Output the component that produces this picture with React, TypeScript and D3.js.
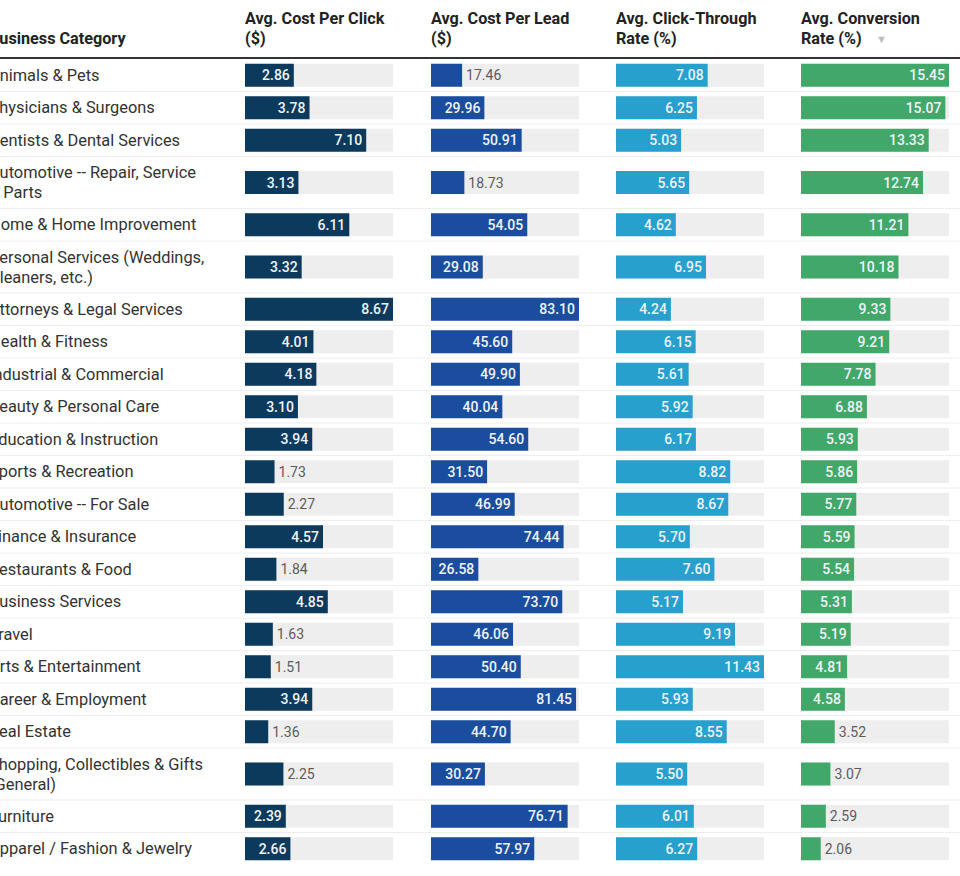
import React from "react";
import * as d3 from "d3";

const categories = [
  "Animals & Pets",
  "Physicians & Surgeons",
  "Dentists & Dental Services",
  "Automotive -- Repair, Service & Parts",
  "Home & Home Improvement",
  "Personal Services (Weddings, Cleaners, etc.)",
  "Attorneys & Legal Services",
  "Health & Fitness",
  "Industrial & Commercial",
  "Beauty & Personal Care",
  "Education & Instruction",
  "Sports & Recreation",
  "Automotive -- For Sale",
  "Finance & Insurance",
  "Restaurants & Food",
  "Business Services",
  "Travel",
  "Arts & Entertainment",
  "Career & Employment",
  "Real Estate",
  "Shopping, Collectibles & Gifts (General)",
  "Furniture",
  "Apparel / Fashion & Jewelry",
];

const costPerClick = [2.86, 3.78, 7.1, 3.13, 6.11, 3.32, 8.67, 4.01, 4.18, 3.1, 3.94, 1.73, 2.27, 4.57, 1.84, 4.85, 1.63, 1.51, 3.94, 1.36, 2.25, 2.39, 2.66];
const costPerLead = [17.46, 29.96, 50.91, 18.73, 54.05, 29.08, 83.1, 45.6, 49.9, 40.04, 54.6, 31.5, 46.99, 74.44, 26.58, 73.7, 46.06, 50.4, 81.45, 44.7, 30.27, 76.71, 57.97];
const clickThrough = [7.08, 6.25, 5.03, 5.65, 4.62, 6.95, 4.24, 6.15, 5.61, 5.92, 6.17, 8.82, 8.67, 5.7, 7.6, 5.17, 9.19, 11.43, 5.93, 8.55, 5.5, 6.01, 6.27];
const conversion = [15.45, 15.07, 13.33, 12.74, 11.21, 10.18, 9.33, 9.21, 7.78, 6.88, 5.93, 5.86, 5.77, 5.59, 5.54, 5.31, 5.19, 4.81, 4.58, 3.52, 3.07, 2.59, 2.06];

const columns = [
  { title: ["Avg. Cost Per Click", "($)"], values: costPerClick, color: "#0c3a5d", x: 245 },
  { title: ["Avg. Cost Per Lead", "($)"], values: costPerLead, color: "#1a4d9d", x: 431 },
  { title: ["Avg. Click-Through", "Rate (%)"], values: clickThrough, color: "#27a0cd", x: 616 },
  { title: ["Avg. Conversion", "Rate (%)"], values: conversion, color: "#42a86a", x: 801 },
];

const W = 960;
const H = 876;
const FONT = "Roboto, 'Noto Sans', sans-serif";
const headerBottom = 59;
const lineH = 32.5;
const extraLine = 19.5;
const barH = 23;
const trackW = 148;
const labelX = -11;
const labelSize = 16.4;
const wrapWidth = 217;

// split a category name over as many lines as the first column needs
function wrap(text: string): string[] {
  const ctx = document.createElement("canvas").getContext("2d")!;
  ctx.font = `${labelSize}px ${FONT}`;
  const words = text.split(" ");
  const lines: string[] = [];
  let cur = "";
  words.forEach((w) => {
    const next = cur ? cur + " " + w : w;
    if (ctx.measureText(next).width > wrapWidth && cur) {
      lines.push(cur);
      cur = w;
    } else cur = next;
  });
  if (cur) lines.push(cur);
  return lines;
}

export default function App() {
  const rows = React.useMemo(() => {
    let y = headerBottom;
    return categories.map((c) => {
      const lines = wrap(c);
      const h = lineH + (lines.length - 1) * extraLine;
      const r = { name: c, lines, top: y, h, cy: y + h / 2 };
      y += h;
      return r;
    });
  }, []);

  return (
    <svg
      width={W}
      height={H}
      style={{ position: "absolute", left: 0, top: 0, background: "#fff" }}
      fontFamily={FONT}
    >
      {/* header */}
      <text x={labelX} y={44} fontSize={16.2} fontWeight={700} fill="#222">
        Business Category
      </text>
      {columns.map((col, ci) => (
        <text key={ci} x={col.x} y={24} fontSize={16.2} fontWeight={700} fill="#222">
          <tspan x={col.x}>{col.title[0]}</tspan>
          <tspan x={col.x} dy={20}>
            {col.title[1]}
          </tspan>
        </text>
      ))}
      <text x={876} y={43} fontSize={11} fill="#bdbdbd">
        ▼
      </text>

      {/* rows */}
      {rows.map((r, i) => (
        <g key={r.name}>
          {i > 0 && <line x1={0} x2={W} y1={r.top} y2={r.top} stroke="#eeeeee" strokeWidth={1} />}
          <text fontSize={labelSize} fill="#333" y={r.cy - ((r.lines.length - 1) * 20) / 2 + 5.5}>
            {r.lines.map((l, li) => (
              <tspan key={li} x={labelX} dy={li === 0 ? 0 : 20}>
                {l}
              </tspan>
            ))}
          </text>
          {columns.map((col, ci) => {
            const x = d3.scaleLinear().domain([0, d3.max(col.values)!]).range([0, trackW]);
            const v = col.values[i];
            const bw = x(v);
            const inside = bw >= 40;
            const y0 = r.cy - barH / 2;
            return (
              <g key={ci}>
                <rect x={col.x} y={y0} width={trackW} height={barH} fill="#eeeeee" />
                <rect x={col.x} y={y0} width={bw} height={barH} fill={col.color} />
                <text
                  x={inside ? col.x + bw - 4 : col.x + bw + 4}
                  y={r.cy + 5}
                  fontSize={14}
                  fontWeight={inside ? 500 : 400}
                  textAnchor={inside ? "end" : "start"}
                  fill={inside ? "#eef4fb" : "#5c5c5c"}
                >
                  {d3.format(".2f")(v)}
                </text>
              </g>
            );
          })}
        </g>
      ))}
      <line x1={0} x2={W} y1={58} y2={58} stroke="#333" strokeWidth={2} />
    </svg>
  );
}
